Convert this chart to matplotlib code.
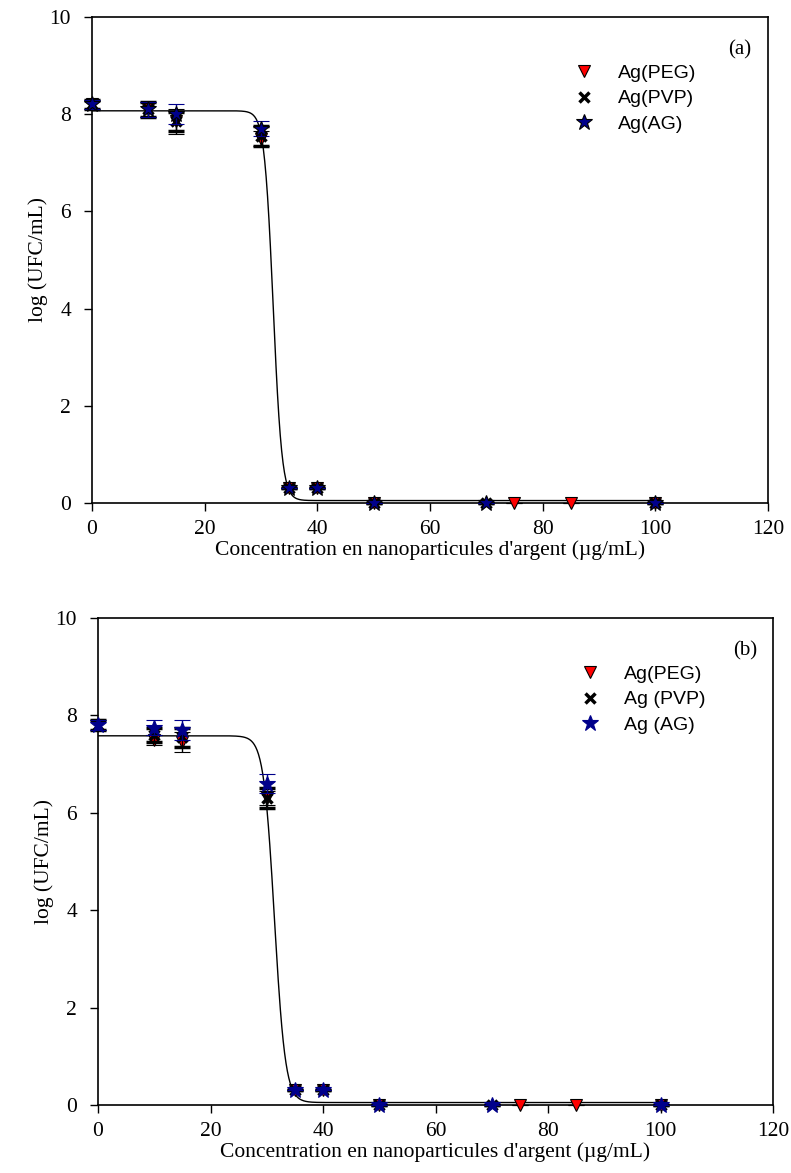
import numpy as np
import matplotlib.pyplot as plt
from matplotlib.lines import Line2D

# ---- data, panel (a)
peg_x_a = [0, 10, 15, 30, 35, 40, 50, 75, 85, 100]
peg_y_a = [8.2, 8.1, 7.85, 7.5, 0.3, 0.3, 0.0, 0.0, 0.0, 0.0]
peg_e_a = [0.1, 0.15, 0.25, 0.15, 0, 0, 0, 0, 0, 0]
pvp_x_a = [0, 10, 15, 30, 35, 40, 50, 70, 100]
pvp_y_a = [8.2, 8.1, 7.85, 7.55, 0.3, 0.3, 0.0, 0.0, 0.0]
pvp_e_a = [0.1, 0.15, 0.2, 0.2, 0, 0, 0, 0, 0]
ag_x_a = [0, 10, 15, 30, 35, 40, 50, 70, 100]
ag_y_a = [8.2, 8.1, 8.0, 7.7, 0.3, 0.3, 0.0, 0.0, 0.0]
ag_e_a = [0.1, 0.15, 0.2, 0.15, 0, 0, 0, 0, 0]
# sigmoid fit (top, bottom, x50, slope)
fit_a = (8.07, 0.05, 32.16, 0.785)

# ---- data, panel (b)
peg_x_b = [0, 10, 15, 30, 35, 40, 50, 75, 85, 100]
peg_y_b = [7.8, 7.5, 7.45, 6.3, 0.3, 0.3, 0.0, 0.0, 0.0, 0.0]
peg_e_b = [0.1, 0.1, 0.2, 0.15, 0, 0, 0, 0, 0, 0]
pvp_x_b = [0, 10, 15, 30, 35, 40, 50, 70, 100]
pvp_y_b = [7.8, 7.6, 7.55, 6.3, 0.3, 0.3, 0.0, 0.0, 0.0]
pvp_e_b = [0.1, 0.15, 0.2, 0.2, 0, 0, 0, 0, 0]
ag_x_b = [0, 10, 15, 30, 35, 40, 50, 70, 100]
ag_y_b = [7.8, 7.75, 7.7, 6.6, 0.3, 0.3, 0.0, 0.0, 0.0]
ag_e_b = [0.1, 0.15, 0.2, 0.2, 0, 0, 0, 0, 0]
fit_b = (7.58, 0.05, 31.37, 0.968)

labels_a = ["Ag(PEG)", "Ag(PVP)", "Ag(AG)"]
labels_b = ["Ag(PEG)", "Ag (PVP)", "Ag (AG)"]

serif = "Liberation Serif"
sans = "Liberation Sans"
navy = "#00008b"


def sigmoid(x, p):
    top, bot, x0, b = p
    return bot + (top - bot) / (1 + np.exp((x - x0) / b))


def panel(ax, data, fit, labels, tag, star_edge):
    xs = np.linspace(0, 100, 800)
    ax.plot(xs, sigmoid(xs, fit), color="black", lw=1.0, zorder=2)
    (px, py, pe), (vx, vy, ve), (ax_, ay, ae) = data
    ax.errorbar(px, py, yerr=pe, fmt="v", ms=8.5, mfc="red", mec="black",
                mew=0.8, ecolor="black", elinewidth=1, capsize=6,
                clip_on=False, zorder=3)
    ax.errorbar(vx, vy, yerr=ve, fmt="x", ms=7.5, mec="black", mew=2.5,
                ecolor="black", elinewidth=1, capsize=6, clip_on=False, zorder=4)
    ax.errorbar(ax_, ay, yerr=ae, fmt="*", ms=12, mfc=navy, mec=star_edge,
                mew=0.8, ecolor=navy, elinewidth=1, capsize=6,
                clip_on=False, zorder=5)
    ax.set_xlim(0, 120)
    ax.set_ylim(0, 10)
    ax.set_xticks(range(0, 121, 20))
    ax.set_yticks(range(0, 11, 2))
    ax.tick_params(direction="out", length=6, width=1, labelsize=15.5)
    ax.tick_params(axis="y", pad=9)
    ax.tick_params(axis="x", pad=6)
    for lab in ax.get_xticklabels() + ax.get_yticklabels():
        lab.set_fontfamily(serif)
    for s in ax.spines.values():
        s.set_linewidth(1.2)
    ax.set_xlabel("Concentration en nanoparticules d'argent (\u00b5g/mL)",
                  fontfamily=serif, fontsize=15.5, labelpad=1)
    ax.set_ylabel("log (UFC/mL)", fontfamily=serif, fontsize=15.5, labelpad=1)
    ax.text(0.958, 0.932, tag, transform=ax.transAxes, ha="center", va="center",
            fontfamily=serif, fontsize=15)
    handles = [
        Line2D([], [], ls="none", marker="v", ms=8.5, mfc="red", mec="black", mew=0.8),
        Line2D([], [], ls="none", marker="x", ms=7.5, mec="black", mew=2.5),
        Line2D([], [], ls="none", marker="*", ms=12, mfc=navy, mec=star_edge, mew=0.8),
    ]
    ax.legend(handles, labels, loc="upper left", bbox_to_anchor=(0.714, 0.903),
              frameon=False, borderpad=0, borderaxespad=0, handlelength=1.0,
              handletextpad=1.25, labelspacing=0.41,
              prop={"family": sans, "size": 14})


fig = plt.figure(figsize=(7.91, 11.73), dpi=100)
ax1 = fig.add_axes([0.1163, 0.5712, 0.8546, 0.4143])
ax2 = fig.add_axes([0.1239, 0.0580, 0.8534, 0.4152])

panel(ax1, [(peg_x_a, peg_y_a, peg_e_a), (pvp_x_a, pvp_y_a, pvp_e_a),
            (ag_x_a, ag_y_a, ag_e_a)], fit_a, labels_a, "(a)", "black")
panel(ax2, [(peg_x_b, peg_y_b, peg_e_b), (pvp_x_b, pvp_y_b, pvp_e_b),
            (ag_x_b, ag_y_b, ag_e_b)], fit_b, labels_b, "(b)", navy)

fig.savefig("out.png", dpi=100)
